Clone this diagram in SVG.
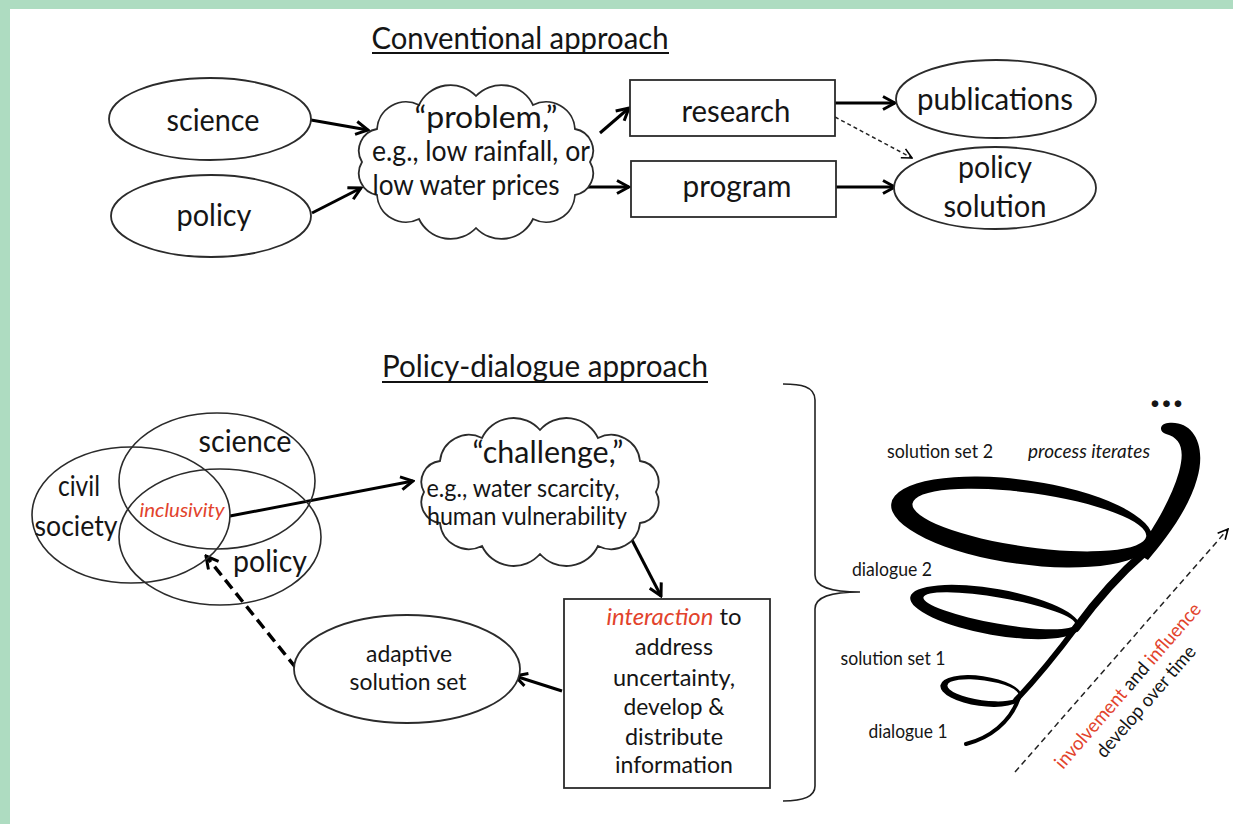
<svg xmlns="http://www.w3.org/2000/svg" width="1233" height="824" viewBox="0 0 1233 824">
<defs>
<style>
text{font-family:Lato,"Open Sans","Liberation Sans",sans-serif;fill:#151515;}
.t{text-anchor:middle;}
.node{fill:#fff;stroke:#2b2b2b;stroke-width:1.8;}
.venn{fill:none;stroke:#2b2b2b;stroke-width:1.6;}
.con{fill:none;stroke:#000;stroke-width:3;}
.thin{fill:none;stroke:#222;stroke-width:1.5;stroke-dasharray:4 3;}
.red{fill:#e2432c;}
</style>
<marker id="arr" viewBox="0 0 16 16" refX="14" refY="8" markerWidth="16" markerHeight="16" markerUnits="userSpaceOnUse" orient="auto">
<path d="M2,1.5 L14,8 L2,14.5" fill="none" stroke="#000" stroke-width="3"/>
</marker>
<marker id="arrs" viewBox="0 0 12 12" refX="11" refY="6" markerWidth="12" markerHeight="12" markerUnits="userSpaceOnUse" orient="auto">
<path d="M1,1 L11,6 L1,11" fill="none" stroke="#000" stroke-width="1.6"/>
</marker>
</defs>
<rect x="0" y="0" width="1233" height="824" fill="#fff"/>
<rect x="0" y="0" width="10" height="824" fill="#aedcc1"/>
<rect x="0" y="0" width="1233" height="9" fill="#aedcc1"/>

<g id="title-conventional">
<text x="520" y="49" class="t" font-size="30" textLength="297" lengthAdjust="spacingAndGlyphs">Conventional approach</text>
<line x1="372" y1="53" x2="669" y2="53" stroke="#111" stroke-width="2"/>
</g>
<g id="title-dialogue">
<text x="545" y="377" class="t" font-size="30" textLength="326" lengthAdjust="spacingAndGlyphs">Policy-dialogue approach</text>
<line x1="382" y1="382" x2="708" y2="382" stroke="#111" stroke-width="2"/>
</g>

<g id="connectors">
<line class="con" x1="311" y1="120" x2="368" y2="130" marker-end="url(#arr)"/>
<line class="con" x1="312" y1="213" x2="361" y2="188" marker-end="url(#arr)"/>
<line class="con" x1="600" y1="133" x2="629" y2="108" marker-end="url(#arr)"/>
<line class="con" x1="578" y1="187" x2="629" y2="187" marker-end="url(#arr)"/>
<line class="con" x1="835" y1="103" x2="895" y2="103" marker-end="url(#arr)"/>
<line class="con" x1="836" y1="187" x2="895" y2="187" marker-end="url(#arr)"/>
<line class="thin" x1="835" y1="117" x2="912" y2="158" marker-end="url(#arrs)"/>
<line class="con" x1="230" y1="516" x2="413" y2="481" marker-end="url(#arr)"/>
<line class="con" x1="632" y1="540" x2="661" y2="596" marker-end="url(#arr)"/>
<line class="con" x1="562" y1="691" x2="515" y2="676" marker-end="url(#arr)"/>
<line x1="296" y1="668" x2="206" y2="556" fill="none" stroke="#000" stroke-width="3.5" stroke-dasharray="11 6" marker-end="url(#arr)"/>
<line x1="1015" y1="772" x2="1228" y2="529" fill="none" stroke="#222" stroke-width="1.5" stroke-dasharray="6 4" marker-end="url(#arrs)"/>
</g>

<g id="science-top">
<ellipse class="node" cx="210" cy="119" rx="101" ry="41"/>
<text x="213" y="131" class="t" font-size="30" textLength="93" lengthAdjust="spacingAndGlyphs">science</text>
</g>
<g id="policy-top">
<ellipse class="node" cx="211" cy="216" rx="100" ry="41"/>
<text x="214" y="226" class="t" font-size="30" textLength="75" lengthAdjust="spacingAndGlyphs">policy</text>
</g>
<g id="problem-cloud">
<path class="node" d="M362,162 A22,22 0 0 1 377,129 A29,29 0 0 1 419,105 A35,35 0 0 1 476,96 A35,35 0 0 1 533,105 A29,29 0 0 1 575,129 A22,22 0 0 1 590,162 A22,22 0 0 1 575,195 A29,29 0 0 1 533,219 A35,35 0 0 1 476,228 A35,35 0 0 1 419,219 A29,29 0 0 1 377,195 A22,22 0 0 1 362,162 Z"/>
<text x="486" y="128" class="t" font-size="30" textLength="143" lengthAdjust="spacingAndGlyphs">“problem,”</text>
<text x="481" y="161" class="t" font-size="28" textLength="218" lengthAdjust="spacingAndGlyphs">e.g., low rainfall, or</text>
<text x="466" y="195" class="t" font-size="28" textLength="187" lengthAdjust="spacingAndGlyphs">low water prices</text>
</g>
<g id="research">
<rect class="node" x="630" y="80" width="205" height="56"/>
<text x="736" y="122" class="t" font-size="30" textLength="109" lengthAdjust="spacingAndGlyphs">research</text>
</g>
<g id="program">
<rect class="node" x="631" y="161" width="205" height="56"/>
<text x="737" y="197" class="t" font-size="30" textLength="109" lengthAdjust="spacingAndGlyphs">program</text>
</g>
<g id="publications">
<ellipse class="node" cx="996" cy="99" rx="100" ry="39"/>
<text x="995" y="110" class="t" font-size="30" textLength="156" lengthAdjust="spacingAndGlyphs">publications</text>
</g>
<g id="policy-solution">
<ellipse class="node" cx="995" cy="188" rx="101" ry="41"/>
<text x="995" y="178" class="t" font-size="30" textLength="74" lengthAdjust="spacingAndGlyphs">policy</text>
<text x="995" y="217" class="t" font-size="30" textLength="103" lengthAdjust="spacingAndGlyphs">solution</text>
</g>

<g id="venn">
<ellipse class="venn" cx="131" cy="515" rx="99" ry="68"/>
<ellipse class="venn" cx="217" cy="481" rx="98" ry="68"/>
<ellipse class="venn" cx="220" cy="537" rx="101" ry="68"/>
<text x="79" y="496" class="t" font-size="28" textLength="42" lengthAdjust="spacingAndGlyphs">civil</text>
<text x="76" y="536" class="t" font-size="28" textLength="83" lengthAdjust="spacingAndGlyphs">society</text>
<text x="245" y="452" class="t" font-size="30" textLength="93" lengthAdjust="spacingAndGlyphs">science</text>
<text x="270" y="572" class="t" font-size="30" textLength="74" lengthAdjust="spacingAndGlyphs">policy</text>
<text x="182" y="517" class="t red" font-size="20" font-style="italic" textLength="85" lengthAdjust="spacingAndGlyphs">inclusivity</text>
</g>
<g id="challenge-cloud">
<path class="node" d="M424,492 A21,21 0 0 1 440,461 A29,29 0 0 1 482,438 A35,35 0 0 1 540,430 A35,35 0 0 1 598,438 A29,29 0 0 1 640,461 A21,21 0 0 1 656,492 A21,21 0 0 1 640,523 A29,29 0 0 1 598,546 A35,35 0 0 1 540,554 A35,35 0 0 1 482,546 A29,29 0 0 1 440,523 A21,21 0 0 1 424,492 Z"/>
<text x="548" y="463" class="t" font-size="30" textLength="151" lengthAdjust="spacingAndGlyphs">“challenge,”</text>
<text x="523" y="497" class="t" font-size="25" textLength="193" lengthAdjust="spacingAndGlyphs">e.g., water scarcity,</text>
<text x="527" y="525" class="t" font-size="25" textLength="200" lengthAdjust="spacingAndGlyphs">human vulnerability</text>
</g>
<g id="interaction">
<rect class="node" x="564" y="599" width="206" height="189"/>
<text x="674" y="625" class="t" font-size="24" textLength="135" lengthAdjust="spacingAndGlyphs"><tspan class="red" font-style="italic">interaction</tspan> to</text>
<text x="674" y="655" class="t" font-size="24" textLength="78" lengthAdjust="spacingAndGlyphs">address</text>
<text x="674" y="686" class="t" font-size="24" textLength="122" lengthAdjust="spacingAndGlyphs">uncertainty,</text>
<text x="674" y="715" class="t" font-size="24" textLength="101" lengthAdjust="spacingAndGlyphs">develop &amp;</text>
<text x="674" y="745" class="t" font-size="24" textLength="98" lengthAdjust="spacingAndGlyphs">distribute</text>
<text x="674" y="773" class="t" font-size="24" textLength="118" lengthAdjust="spacingAndGlyphs">information</text>
</g>
<g id="adaptive-solution-set">
<ellipse class="node" cx="407" cy="669" rx="113" ry="54"/>
<text x="409" y="662" class="t" font-size="24" textLength="86" lengthAdjust="spacingAndGlyphs">adaptive</text>
<text x="408" y="690" class="t" font-size="24" textLength="117" lengthAdjust="spacingAndGlyphs">solution set</text>
</g>

<g id="brace">
<path d="M783,384 C800,384 815,386 815,400 L815,575 C815,587 830,592 860,592 C830,592 815,597 815,609 L815,786 C815,798 800,801 783,801" fill="none" stroke="#222" stroke-width="1.6"/>
</g>

<g id="spiral">
<g transform="translate(1022,522) rotate(8)">
<path fill="#000" fill-rule="evenodd" d="M-132,0 A132,42 0 1 0 132,0 A132,42 0 1 0 -132,0 Z M-111,-3 A118,27 0 1 1 125,-3 A118,27 0 1 1 -111,-3 Z"/>
</g>
<g transform="translate(995,612) rotate(10)">
<path fill="#000" fill-rule="evenodd" d="M-86,0 A86,23 0 1 0 86,0 A86,23 0 1 0 -86,0 Z M-73,-2 A77,13 0 1 1 81,-2 A77,13 0 1 1 -73,-2 Z"/>
</g>
<g transform="translate(981,691) rotate(8)">
<path fill="#000" fill-rule="evenodd" d="M-41,0 A41,15 0 1 0 41,0 A41,15 0 1 0 -41,0 Z M-34,-1 A36,10 0 1 1 38,-1 A36,10 0 1 1 -34,-1 Z"/>
</g>
<path d="M966,744 C990,738 1010,722 1018,700" fill="none" stroke="#000" stroke-width="4" stroke-linecap="round"/>
<path d="M1016,700 C1035,680 1058,652 1078,625" fill="none" stroke="#000" stroke-width="5.5" stroke-linecap="round"/>
<path d="M1076,628 C1098,598 1122,572 1145,552" fill="none" stroke="#000" stroke-width="8" stroke-linecap="round"/>
<path fill="#000" d="M1168,423 C1193,420 1207,445 1197,479 C1188,511 1164,541 1148,560 L1136,553 C1152,531 1171,500 1179,472 C1185,450 1181,438 1166,434 C1159,432 1159,424 1168,423 Z"/>
</g>

<g id="spiral-labels">
<text x="1167" y="407" class="t" font-size="44" font-weight="bold" letter-spacing="1">...</text>
<text x="940" y="458" class="t" font-size="19" textLength="106" lengthAdjust="spacingAndGlyphs">solution set 2</text>
<text x="1089" y="458" class="t" font-size="19" font-style="italic" textLength="122" lengthAdjust="spacingAndGlyphs">process iterates</text>
<text x="892" y="576" class="t" font-size="19" textLength="80" lengthAdjust="spacingAndGlyphs">dialogue 2</text>
<text x="893" y="665" class="t" font-size="19" textLength="105" lengthAdjust="spacingAndGlyphs">solution set 1</text>
<text x="908" y="738" class="t" font-size="19" textLength="79" lengthAdjust="spacingAndGlyphs">dialogue 1</text>
<g transform="translate(1128,686) rotate(-49)">
<text x="0" y="6" class="t" font-size="19" textLength="212" lengthAdjust="spacingAndGlyphs"><tspan class="red">involvement</tspan> and <tspan class="red">influence</tspan></text>
<text x="0" y="30" class="t" font-size="19" textLength="141" lengthAdjust="spacingAndGlyphs">develop over time</text>
</g>
</g>
</svg>
